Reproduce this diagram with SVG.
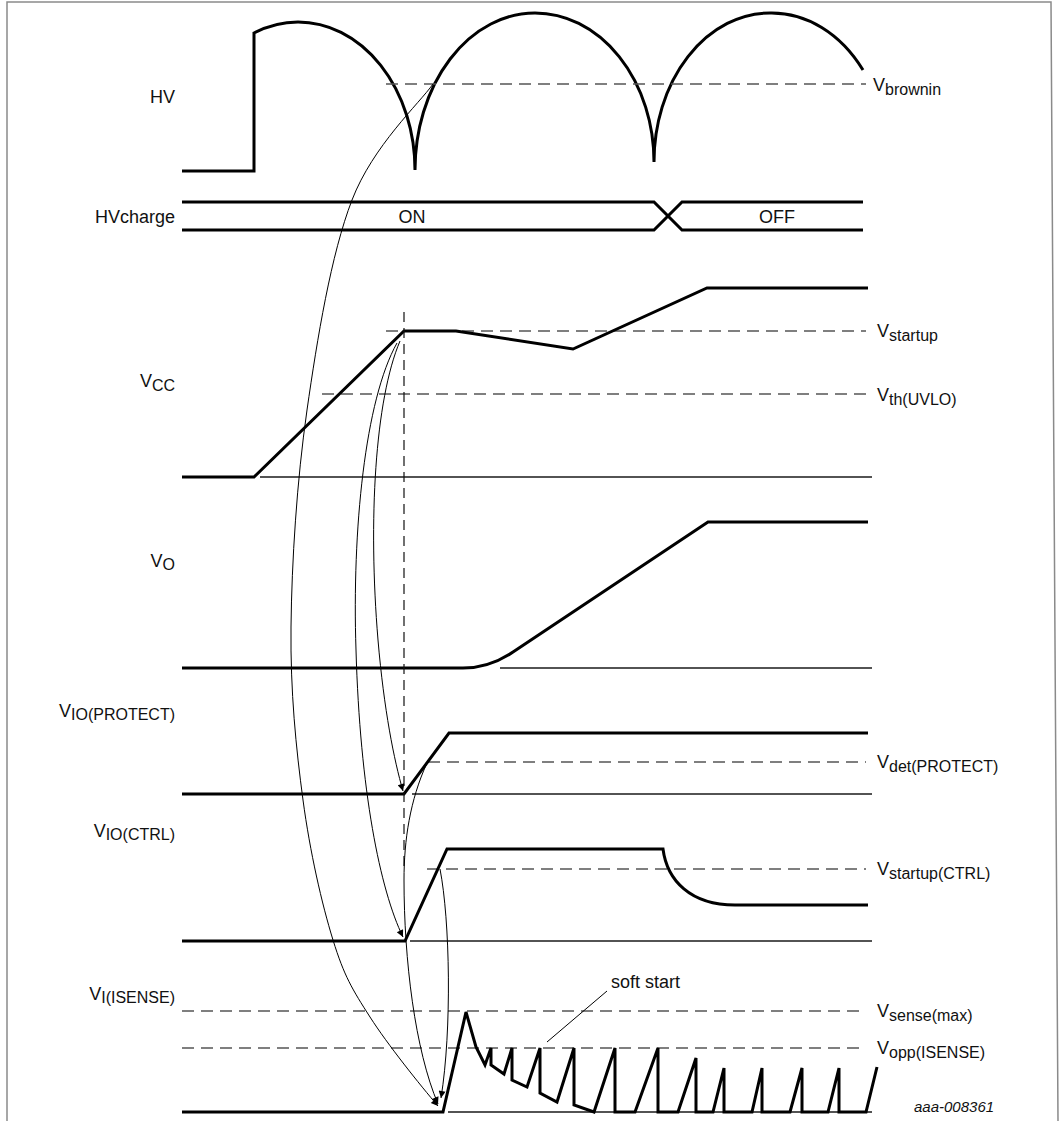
<svg xmlns="http://www.w3.org/2000/svg" width="1061" height="1121" viewBox="0 0 1061 1121">
<style>
.bg{fill:#fff}
.frame{fill:none;stroke:#8a8a8a;stroke-width:1.5}
.trace{fill:none;stroke:#000;stroke-width:3;stroke-linejoin:miter}
.base{fill:none;stroke:#1a1a1a;stroke-width:1.5}
.dash{fill:none;stroke:#555;stroke-width:1.5;stroke-dasharray:12 7}
.vdash{fill:none;stroke:#111;stroke-width:1.2;stroke-dasharray:10 6}
.conn{fill:none;stroke:#000;stroke-width:1}
.lbl{font-family:"Liberation Sans",Arial,sans-serif;font-size:18px;fill:#111}
.sub{font-size:16px}
.mid{text-anchor:middle}
.end{text-anchor:end}
.id{font-family:"Liberation Sans",Arial,sans-serif;font-size:15px;font-style:italic;fill:#111}
</style>
<defs>
<marker id="ah" viewBox="0 0 10 10" refX="10" refY="5" markerWidth="10" markerHeight="7" markerUnits="userSpaceOnUse" orient="auto">
<path d="M0,0 L10,5 L0,10 z" fill="#000"/>
</marker>
</defs>
<rect class="bg" x="0" y="0" width="1061" height="1121"/>
<path class="frame" d="M7,1121 L7,2 L1051,2 L1058,1121"/>

<g id="hv">
<text class="lbl end" x="175" y="103">HV</text>
<path class="trace" d="M182,171 H254 V33 A117,148 0 0 1 298,22 A117,148 0 0 1 415,170 A120,157 0 0 1 535,13 A119,149 0 0 1 654,162 A116,149 0 0 1 770,13 A116,149 0 0 1 863,70"/>
<path class="dash" d="M386,84 H866"/>
<text class="lbl" x="873" y="91">V<tspan class="sub" dy="4">brownin</tspan></text>
</g>

<g id="hvcharge">
<text class="lbl end" x="175" y="223">HVcharge</text>
<path class="trace" d="M182,202 H654 L682,230 H863"/>
<path class="trace" d="M182,230 H654 L682,202 H863"/>
<text class="lbl mid" x="412" y="223">ON</text>
<text class="lbl mid" x="777" y="223">OFF</text>
</g>

<g id="vcc">
<text class="lbl end" x="175" y="387">V<tspan class="sub" dy="4">CC</tspan></text>
<path class="base" d="M260,477 H872"/>
<path class="dash" d="M386,331 H866"/>
<path class="dash" d="M322,394 H866"/>
<path class="trace" d="M182,477 H254 L404,331 H456 L573,349 L707,288 H868"/>
<text class="lbl" x="877" y="337">V<tspan class="sub" dy="4">startup</tspan></text>
<text class="lbl" x="877" y="401">V<tspan class="sub" dy="4">th(UVLO)</tspan></text>
</g>

<g id="vo">
<text class="lbl end" x="175" y="567">V<tspan class="sub" dy="3">O</tspan></text>
<path class="base" d="M500,668 H872"/>
<path class="trace" d="M182,668 H463 C480,668 498,662 513,652 L708,522 H868"/>
</g>

<g id="vio-protect">
<text class="lbl end" x="175" y="717">V<tspan class="sub" dy="3">IO(PROTECT)</tspan></text>
<path class="base" d="M412,794 H872"/>
<path class="dash" d="M428,762 H866"/>
<path class="trace" d="M182,794 H404 L449,733 H868"/>
<text class="lbl" x="877" y="768">V<tspan class="sub" dy="4">det(PROTECT)</tspan></text>
</g>

<g id="vio-ctrl">
<text class="lbl end" x="175" y="837">V<tspan class="sub" dy="3">IO(CTRL)</tspan></text>
<path class="base" d="M410,941 H872"/>
<path class="dash" d="M427,869 H866"/>
<path class="trace" d="M182,941 H405 L447,849 H663 C667,880 690,905 735,905 H868"/>
<text class="lbl" x="877" y="875">V<tspan class="sub" dy="4">startup(CTRL)</tspan></text>
</g>

<g id="vi-isense">
<text class="lbl end" x="175" y="1000">V<tspan class="sub" dy="3">I(ISENSE)</tspan></text>
<path class="base" d="M448,1112 H872"/>
<path class="dash" d="M182,1011 H866"/>
<path class="dash" d="M182,1048 H866"/>
<path class="trace" d="M182,1112 H443 L466,1012 L476,1047 L485,1065 L491,1048 L491,1065 L504,1074 L512,1048 L512,1080 L527,1087 L540,1048 L540,1093 L557,1102 L574,1048 L574,1105 L594,1112 L615,1048 L615,1112 L635,1112 L658,1048 L658,1112 L678,1112 L696,1058 L696,1112 L713,1112 L724,1068 L724,1112 L752,1112 L762,1068 L762,1112 L790,1112 L802,1068 L802,1112 L828,1112 L839,1068 L839,1112 L866,1112 L877,1067"/>
<text class="lbl" x="877" y="1017">V<tspan class="sub" dy="4">sense(max)</tspan></text>
<text class="lbl" x="877" y="1054">V<tspan class="sub" dy="4">opp(ISENSE)</tspan></text>
<text class="lbl" x="611" y="988">soft start</text>
<path class="conn" d="M607,991 L547,1042"/>
</g>

<g id="connectors">
<path class="vdash" d="M404,312 V870"/>
<path class="conn" marker-end="url(#ah)" d="M433,84 C419.5,103.3 373,145.7 352,200 C331,254.3 317.2,338.8 307,410 C296.8,481.2 291.7,562 291,627 C290.3,692 296,747.8 303,800 C310,852.2 321.8,903.8 333,940 C344.2,976.2 352.2,989.2 370,1017 C387.8,1044.8 420,1085 438,1106"/>
<path class="conn" marker-end="url(#ah)" d="M400,341 C375,400 368,520 378,640 C384,710 394,760 403,791"/>
<path class="conn" marker-end="url(#ah)" d="M397,343 C365,400 352,530 356,650 C360,790 380,890 403,937"/>
<path class="conn" marker-end="url(#ah)" d="M427,763 C410,800 404,840 404,880 C404,960 415,1050 438,1104"/>
<path class="conn" marker-end="url(#ah)" d="M440,869 C450,920 452,1030 441,1098"/>
</g>

<text class="id" x="914" y="1112">aaa-008361</text>
</svg>
